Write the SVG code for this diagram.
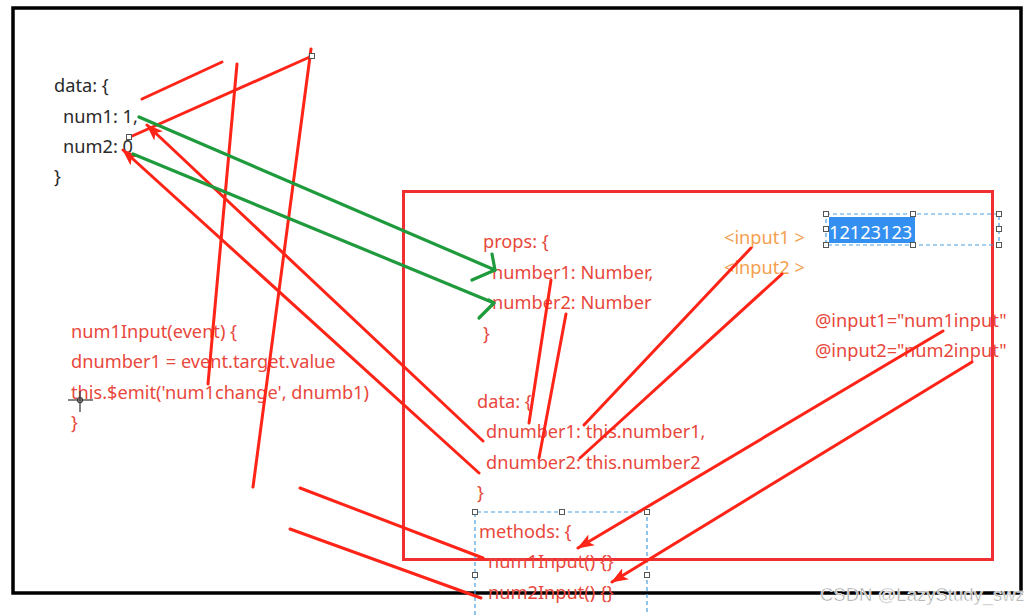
<svg xmlns="http://www.w3.org/2000/svg" width="1033" height="615" viewBox="0 0 1033 615">
<defs>
<style>
.t{font-family:"Noto Sans","Open Sans",sans-serif;font-size:18.2px}
.blk{fill:#2a2a2a}
.red{fill:#e8473c}
.org{fill:#f4a04e}
.ln{stroke:#ff2418;stroke-width:3;fill:none;stroke-linecap:round}
.gr{stroke:#1f9a3c;stroke-width:3.2;fill:none;stroke-linecap:round;stroke-linejoin:round}
.dash{stroke:#4a9fe0;stroke-width:1.2;stroke-dasharray:4 3;fill:none}
.h{fill:#fff;stroke:#555;stroke-width:1}
</style>
<marker id="ah" viewBox="0 0 16 12" refX="15" refY="6" markerWidth="17" markerHeight="13" markerUnits="userSpaceOnUse" orient="auto">
<path d="M0,0 L16,6 L0,12 L4,6 Z" fill="#ff2418"/>
</marker>
</defs>
<rect width="1033" height="615" fill="#fff"/>
<rect id="frame" x="13" y="8" width="1008" height="585" fill="none" stroke="#000" stroke-width="3.5"/>
<rect id="child-box" x="403.5" y="191.5" width="589" height="368" fill="none" stroke="#f03030" stroke-width="3"/>

<g id="parent-data">
<text class="t blk" x="54" y="92">data: {</text>
<text class="t blk" x="63" y="123">num1: 1,</text>
<text class="t blk" x="63" y="153">num2: 0</text>
<text class="t blk" x="54" y="183">}</text>
</g>

<g id="parent-method">
<text class="t red" x="71" y="338">num1Input(event) {</text>
<text class="t red" x="71" y="368">dnumber1 = event.target.value</text>
<text class="t red" x="71" y="399">this.$emit('num1change', dnumb1)</text>
<text class="t red" x="71" y="429">}</text>
<g stroke="#333" stroke-width="1.2" fill="none">
<line x1="68" y1="400" x2="93" y2="400"/>
<line x1="80" y1="391" x2="80" y2="412"/>
<circle cx="80" cy="400" r="2.5"/>
</g>
</g>

<g id="props">
<text class="t red" x="483" y="248">props: {</text>
<text class="t red" x="492" y="279">number1: Number,</text>
<text class="t red" x="492" y="309">number2: Number</text>
<text class="t red" x="483" y="340">}</text>
</g>

<g id="inputs">
<text class="t org" x="724" y="244">&lt;input1 &gt;</text>
<text class="t org" x="724" y="274">&lt;input2 &gt;</text>
</g>

<g id="input-box">
<rect x="826" y="214" width="173" height="31" class="dash"/>
<rect x="829" y="217" width="86" height="26" fill="#3390f0"/>
<text class="t" x="829" y="239" fill="#fff" font-size="19">12123123</text>
<rect class="h" x="823.5" y="211.5" width="5" height="5"/>
<rect class="h" x="910.5" y="211.5" width="5" height="5"/>
<rect class="h" x="996.5" y="211.5" width="5" height="5"/>
<rect class="h" x="823.5" y="226.5" width="5" height="5"/>
<rect class="h" x="996.5" y="226.5" width="5" height="5"/>
<rect class="h" x="823.5" y="242.5" width="5" height="5"/>
<rect class="h" x="910.5" y="242.5" width="5" height="5"/>
<rect class="h" x="996.5" y="242.5" width="5" height="5"/>
</g>

<g id="events">
<text class="t red" x="815" y="327">@input1="num1input"</text>
<text class="t red" x="815" y="357">@input2="num2input"</text>
</g>

<g id="child-data">
<text class="t red" x="477" y="408">data: {</text>
<text class="t red" x="486" y="438">dnumber1: this.number1,</text>
<text class="t red" x="486" y="469">dnumber2: this.number2</text>
<text class="t red" x="477" y="499">}</text>
</g>

<g id="methods">
<path class="dash" d="M475,615 V512 H647 V615"/>
<text class="t red" x="479" y="538">methods: {</text>
<text class="t red" x="488" y="568">num1Input() {}</text>
<text class="t red" x="488" y="599">num2Input() {}</text>
<rect class="h" x="472.5" y="509.5" width="5" height="5"/>
<rect class="h" x="559.5" y="509.5" width="5" height="5"/>
<rect class="h" x="644.5" y="509.5" width="5" height="5"/>
<rect class="h" x="472.5" y="572.5" width="5" height="5"/>
<rect class="h" x="644.5" y="572.5" width="5" height="5"/>
</g>

<g id="connectors">
<line class="ln" x1="142" y1="99" x2="222" y2="62"/>
<line class="ln" x1="237" y1="64" x2="208" y2="384"/>
<line class="ln" x1="311" y1="49" x2="253" y2="487"/>
<line class="ln" x1="312" y1="56" x2="130" y2="137"/>
<line class="ln" x1="483" y1="441" x2="147" y2="125" marker-end="url(#ah)"/>
<line class="ln" x1="479" y1="473" x2="123" y2="150" marker-end="url(#ah)"/>
<line class="ln" x1="551" y1="280" x2="529" y2="423"/>
<line class="ln" x1="566" y1="314" x2="539" y2="458"/>
<line class="ln" x1="751" y1="248" x2="584" y2="425"/>
<line class="ln" x1="782" y1="274" x2="580" y2="458"/>
<line class="ln" x1="943" y1="331" x2="578" y2="548" marker-end="url(#ah)"/>
<line class="ln" x1="972" y1="362" x2="612" y2="582" marker-end="url(#ah)"/>
<line class="ln" x1="300" y1="488" x2="483" y2="558"/>
<line class="ln" x1="290" y1="529" x2="481" y2="598"/>
<line class="gr" x1="139" y1="117" x2="495" y2="270"/>
<polyline class="gr" points="492,254 495,270 472,280"/>
<line class="gr" x1="133" y1="154" x2="494" y2="303"/>
<polyline class="gr" points="489,300 494,303 479,318"/>
<rect class="h" x="309.5" y="53.5" width="5" height="5"/>
<rect class="h" x="126.5" y="134.5" width="5" height="5"/>
</g>

<text id="watermark" x="820" y="601" font-family="'Liberation Sans',Arial,sans-serif" font-size="18.5" fill="#9a9a9a" stroke="#fff" stroke-width="0.6">CSDN @LazyStudy_swz</text>
</svg>
